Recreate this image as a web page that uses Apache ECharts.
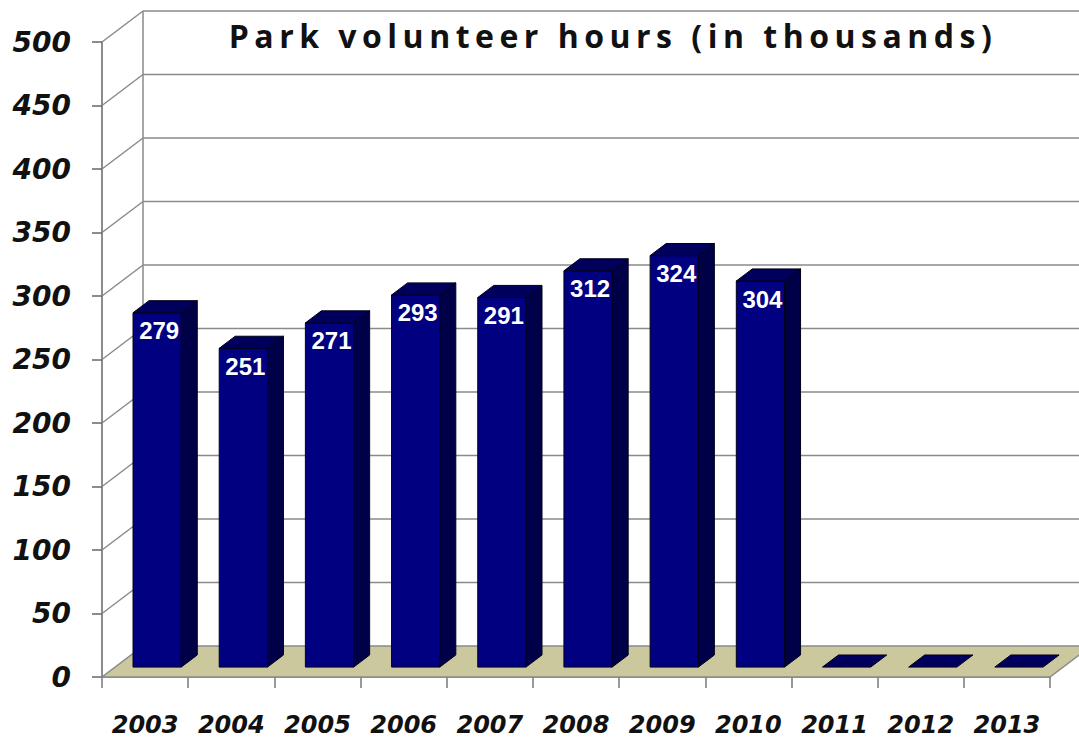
<!DOCTYPE html>
<html><head><meta charset="utf-8">
<script src="https://cdn.jsdelivr.net/npm/echarts@6/dist/echarts.min.js"></script>
<style>
html,body{margin:0;padding:0;background:#fff}
#c{width:1079px;height:738px}
#c text[style*="Open Sans"], #c text[font-family*="Open Sans"]{letter-spacing:5.5px}
</style></head><body><div id="c"></div>
<script>
// ---- data ----
const years = ['2003','2004','2005','2006','2007','2008','2009','2010','2011','2012','2013'];
const hours = [279, 251, 271, 293, 291, 312, 324, 304, 0, 0, 0];
const yTicks = [0, 50, 100, 150, 200, 250, 300, 350, 400, 450, 500];
const chartTitle = 'Park volunteer hours (in thousands)';

// ---- 3D look (pixels) ----
const DX = 41, DY = -31;          // depth vector of the box
const F0 = 0.32, F1 = 0.71;       // bar depth span as fraction of box depth
const GRID = '#8a8a8a';

const chart = echarts.init(document.getElementById('c'), null, {renderer: 'svg'});

function renderFrame(params, api) {
  const v = api.value(1);
  const cs = params.coordSys;
  const x0 = cs.x, x1 = cs.x + cs.width;
  const y = api.coord([0, v])[1];
  const y0 = api.coord([0, 0])[1];
  const bx = x0 + DX, by = y + DY;
  const ch = [];
  if (v === 0) {
    ch.push({type: 'polygon', shape: {points: [[x0, y], [x1, y], [x1 + DX, by], [bx, by]]},
      style: {fill: '#cbc89e', stroke: GRID, lineWidth: 1.5}});
  } else {
    ch.push({type: 'line', shape: {x1: x0, y1: y, x2: bx, y2: by}, style: {stroke: GRID, lineWidth: 1.5}});
    ch.push({type: 'line', shape: {x1: bx, y1: by, x2: x1 + DX + 60, y2: by}, style: {stroke: GRID, lineWidth: 1.5}});
  }
  if (v === yTicks[yTicks.length - 1]) {
    ch.push({type: 'line', shape: {x1: bx, y1: by, x2: bx, y2: y0 + DY}, style: {stroke: GRID, lineWidth: 1.5}});
  }
  return {type: 'group', children: ch};
}

function renderBar(params, api) {
  const i = api.value(0), v = api.value(1);
  const top = api.coord([i, v]);
  const base = api.coord([i, 0]);
  const bw = api.size([1, 0])[0];
  const fdy = DY * F0;
  const sdx = DX * (F1 - F0), sdy = DY * (F1 - F0);
  const cx = top[0] + bw * 0.14;
  const hw = bw * 0.28;
  const L = cx - hw, R = cx + hw, T = top[1] + fdy, B = base[1] + fdy;
  const edge = {stroke: '#00001a', lineWidth: 1};
  const ch = [];
  if (B - T > 0.5) {
    ch.push({type: 'rect', shape: {x: L, y: T, width: R - L, height: B - T},
      style: Object.assign({fill: '#000080'}, edge)});
    ch.push({type: 'polygon', shape: {points: [[R, T], [R + sdx, T + sdy], [R + sdx, B + sdy], [R, B]]},
      style: Object.assign({fill: '#000048'}, edge)});
  }
  ch.push({type: 'polygon', shape: {points: [[L, T], [R, T], [R + sdx, T + sdy], [L + sdx, T + sdy]]},
    style: Object.assign({fill: '#00005c'}, edge)});
  if (v > 0) {
    ch.push({type: 'text', style: {text: String(v), x: cx + 2, y: T + 18,
      fill: '#ffffff', fontSize: 24, fontWeight: 'bold', fontFamily: 'Liberation Sans, Arial, sans-serif',
      align: 'center', verticalAlign: 'middle', textAlign: 'center', textVerticalAlign: 'middle'}});
  }
  return {type: 'group', children: ch};
}

const labelFont = {fontFamily: 'DejaVu Sans', fontWeight: 'bold', fontStyle: 'italic', color: '#111'};

chart.setOption({
  animation: false,
  backgroundColor: '#ffffff',
  title: {
    text: chartTitle, left: 613, top: 19, textAlign: 'center', padding: 0,
    textStyle: {fontFamily: 'Open Sans', fontWeight: 'bold', fontSize: 32, color: '#111'}
  },
  grid: {left: 102, right: 29, top: 42, bottom: 61, containLabel: false, outerBoundsMode: 'none'},
  xAxis: {
    type: 'category', data: years, boundaryGap: true,
    axisLine: {show: true, lineStyle: {color: '#777', width: 1.5}},
    axisTick: {show: true, length: 11, interval: 0, lineStyle: {color: '#777', width: 1.5}},
    axisLabel: Object.assign({margin: 36, fontSize: 24, interval: 0}, labelFont),
    splitLine: {show: false}
  },
  yAxis: {
    type: 'value', min: 0, max: 500, interval: 50,
    axisLine: {show: true, lineStyle: {color: '#666', width: 1.5}},
    axisTick: {show: true, length: 10, lineStyle: {color: '#666', width: 1.5}},
    axisLabel: Object.assign({margin: 31, fontSize: 28}, labelFont),
    splitLine: {show: false}
  },
  series: [
    {type: 'custom', name: 'frame', z: 1, silent: true, clip: false,
     renderItem: renderFrame, data: yTicks.map(v => [0, v])},
    {type: 'custom', name: 'Volunteer hours', z: 5, clip: false,
     renderItem: renderBar, data: hours.map((v, i) => [i, v])}
  ]
});
</script></body></html>
